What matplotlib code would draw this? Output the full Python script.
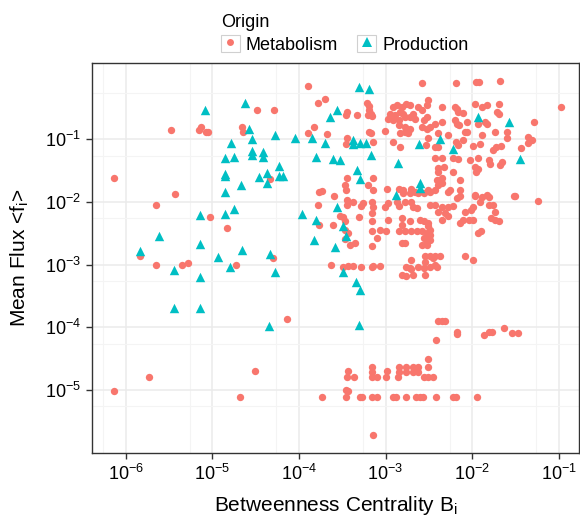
import numpy as np
import matplotlib
matplotlib.use("Agg")
import matplotlib.pyplot as plt
from matplotlib.ticker import FixedLocator, LogFormatterMathtext, NullFormatter
from matplotlib.patches import Rectangle
from matplotlib.lines import Line2D
from matplotlib.legend_handler import HandlerTuple

plt.rcParams['font.family'] = ['Liberation Sans', 'DejaVu Sans']
plt.rcParams['mathtext.fontset'] = 'custom'
plt.rcParams['mathtext.rm'] = 'Liberation Sans'
plt.rcParams['mathtext.it'] = 'Liberation Sans:italic'
plt.rcParams['mathtext.bf'] = 'Liberation Sans:bold'

# ---------------- data: (log10 B_i, log10 <f_i>) ----------------
origins = ["Metabolism", "Production"]

production_logB = [-5.84, -5.62, -5.14, -4.93, -4.66, -4.33, -5.44, -5.14, -4.80, -4.28,
                   -5.44, -5.14, -4.35, -5.08, -4.62, -4.58, -4.54, -4.78, -4.28, -4.05,
                   -3.85, -3.70, -3.56, -3.64, -4.54, -4.54, -4.41, -4.42, -4.85, -4.75,
                   -4.23, -4.37, -4.46, -4.85, -4.85, -4.37, -4.23, -4.18, -4.67, -4.85,
                   -3.80, -3.61, -3.53, -3.56, -5.14, -4.85, -4.75, -3.97, -3.80, -3.83,
                   -3.58, -3.49, -3.46, -3.49, -3.31, -3.19, -3.37, -3.38, -3.30, -3.23,
                   -2.61, -2.37, -2.22, -1.93, -1.58, -1.45, -3.17, -2.86, -3.33, -3.29,
                   -2.60, -2.60, -2.88, -3.34, -3.29, -3.31]
production_logF = [-2.78, -2.55, -2.67, -2.88, -2.77, -2.83, -3.09, -3.19, -3.03, -3.11,
                   -3.69, -3.69, -3.98, -0.53, -0.42, -0.84, -1.00, -1.06, -0.93, -0.98,
                   -0.98, -1.06, -0.54, -0.65, -1.19, -1.25, -1.20, -1.28, -1.30, -1.29,
                   -1.43, -1.54, -1.60, -1.55, -1.59, -1.69, -1.58, -1.58, -1.73, -1.84,
                   -1.29, -1.32, -1.33, -2.08, -2.21, -2.19, -2.12, -2.20, -2.29, -2.61,
                   -2.72, -2.39, -2.54, -3.11, -0.16, -0.20, -1.01, -1.08, -1.06, -1.06,
                   -1.08, -1.00, -1.15, -0.65, -0.72, -1.32, -1.25, -1.38, -1.49, -1.64,
                   -1.69, -1.77, -1.89, -3.27, -3.41, -3.97]

metab_left = [(-6.13, -1.61), (-5.48, -0.86), (-5.15, -0.86), (-5.13, -0.81), (-5.07, -0.88),
              (-5.05, -0.88), (-5.43, -1.88), (-5.65, -2.05), (-5.03, -2.24), (-4.83, -2.42),
              (-5.83, -2.87), (-4.48, -0.54), (-4.29, -0.54), (-4.66, -0.80), (-4.64, -0.88),
              (-4.33, -1.64), (-3.90, -0.15), (-3.78, -0.42), (-3.70, -0.35), (-3.83, -0.80),
              (-3.90, -0.90), (-3.68, -0.92), (-3.77, -1.84), (-3.73, -1.83), (-3.60, -1.90),
              (-3.78, -2.05), (-3.77, -2.37), (-3.61, -2.36), (-4.30, -2.90), (-5.65, -3.01),
              (-5.35, -3.01), (-5.28, -2.98), (-4.73, -3.01), (-3.63, -3.01), (-4.14, -3.86),
              (-4.51, -4.70), (-5.73, -4.80), (-6.13, -5.01), (-4.68, -5.11), (-3.73, -5.11)]

metab_upper_mid = [(-3.21, -0.42), (-3.19, -0.47), (-3.19, -0.53), (-3.17, -0.60), (-3.20, -0.61),
                   (-3.16, -0.63), (-3.44, -0.56), (-3.46, -0.62), (-3.33, -0.61), (-3.19, -0.88),
                   (-3.17, -0.90), (-3.46, -1.08), (-3.14, -1.05), (-3.01, -0.87),
                   (-2.91, -0.48), (-2.87, -0.45), (-2.81, -0.48), (-2.76, -0.43), (-2.72, -0.45),
                   (-2.83, -0.56), (-2.80, -0.59), (-2.89, -0.61), (-2.95, -0.59), (-2.97, -0.67),
                   (-2.91, -0.69), (-2.85, -0.69), (-2.78, -0.64), (-2.72, -0.64), (-2.68, -0.59),
                   (-2.62, -0.48), (-2.58, -0.53), (-2.52, -0.45), (-2.51, -0.37),
                   (-2.84, -0.77), (-2.78, -0.80), (-2.72, -0.83), (-2.74, -0.90), (-2.83, -0.90),
                   (-2.78, -0.88), (-2.66, -0.68), (-2.56, -0.69), (-2.52, -0.65), (-2.58, -0.81),
                   (-2.52, -0.84), (-2.49, -0.80), (-2.91, -1.04), (-2.83, -1.12), (-2.51, -0.98),
                   (-2.53, -1.09), (-2.39, -0.90),
                   (-3.45, -1.61), (-3.47, -1.73), (-3.46, -1.81), (-3.15, -1.61), (-3.20, -1.73),
                   (-3.15, -1.81), (-2.98, -1.80), (-2.85, -1.80), (-2.80, -1.81), (-2.70, -1.80),
                   (-2.39, -1.52), (-2.41, -1.65), (-2.51, -1.81), (-2.43, -1.81), (-3.44, -0.98),
                   (-2.58, -0.10), (-2.19, -0.10), (-1.95, -0.09), (-1.92, -0.09), (-1.68, -0.07),
                   (-0.97, -0.49)]

metab_upper_right = [(-2.35, -0.49), (-2.20, -0.48), (-2.16, -0.56), (-2.10, -0.58), (-2.18, -0.51),
                     (-1.97, -0.43), (-1.89, -0.48), (-1.83, -0.45), (-1.69, -0.43), (-1.71, -0.56),
                     (-1.69, -0.59), (-2.43, -0.75), (-2.35, -0.73), (-2.20, -0.70), (-2.18, -0.75),
                     (-2.15, -0.78), (-2.06, -0.72), (-1.93, -0.75), (-1.85, -0.72), (-1.83, -0.75),
                     (-2.08, -0.88), (-2.06, -0.88), (-2.28, -0.93), (-2.19, -1.04), (-2.16, -1.09),
                     (-2.10, -1.01), (-1.89, -0.93), (-1.74, -0.88), (-1.60, -0.88), (-1.60, -0.98),
                     (-1.99, -1.11), (-1.91, -1.08), (-1.76, -1.17), (-1.72, -1.13), (-1.67, -1.11),
                     (-1.35, -0.96), (-1.31, -1.01), (-1.35, -1.06), (-1.43, -1.14), (-1.29, -0.72),
                     (-2.43, -1.12), (-2.39, -1.12), (-2.43, -1.30), (-2.35, -1.30), (-2.22, -1.30),
                     (-2.16, -1.32), (-2.02, -1.33), (-1.93, -1.30), (-1.81, -1.33), (-1.79, -1.39),
                     (-1.66, -1.36), (-1.68, -1.41), (-2.39, -1.46), (-2.32, -1.44), (-2.22, -1.52),
                     (-1.97, -1.44), (-1.95, -1.52), (-1.93, -1.48), (-2.35, -1.62), (-2.35, -1.70),
                     (-2.39, -1.73), (-2.14, -1.65), (-2.26, -1.81), (-2.14, -1.81), (-1.97, -1.89),
                     (-1.83, -1.89)]

metab_lower_mid = [(-3.45, -1.97), (-3.37, -2.00), (-3.28, -2.06), (-3.26, -2.01), (-3.16, -2.00),
                   (-3.14, -2.08), (-3.16, -2.18), (-3.16, -2.31), (-3.01, -2.08), (-2.97, -2.02),
                   (-2.87, -2.00), (-2.85, -2.06), (-2.80, -1.86), (-2.72, -1.86), (-2.66, -1.84),
                   (-2.62, -1.86), (-2.56, -1.86), (-2.49, -1.84), (-2.78, -2.00), (-2.70, -2.00),
                   (-2.68, -2.08), (-2.64, -2.10), (-2.49, -2.05), (-3.49, -2.24), (-3.47, -2.31),
                   (-3.31, -2.24), (-2.97, -2.28), (-2.81, -2.26), (-2.72, -2.31), (-2.81, -2.37),
                   (-2.60, -2.29), (-2.56, -2.31), (-2.51, -2.34), (-2.51, -2.39), (-2.49, -2.45),
                   (-3.16, -2.47), (-3.06, -2.44), (-2.99, -2.47), (-2.85, -2.47), (-2.78, -2.47),
                   (-2.70, -2.47), (-2.64, -2.47), (-2.58, -2.47), (-2.52, -2.50), (-2.49, -2.53),
                   (-3.10, -2.58), (-2.81, -2.65), (-2.78, -2.66), (-2.56, -2.58), (-2.52, -2.63),
                   (-2.52, -2.69), (-2.49, -2.61), (-2.58, -2.69), (-3.41, -2.69), (-3.35, -2.65),
                   (-3.16, -2.70), (-2.54, -2.87), (-2.49, -2.87), (-2.45, -2.90), (-2.54, -2.95),
                   (-3.49, -3.04), (-3.43, -3.02), (-3.37, -3.02), (-3.28, -3.03), (-3.16, -3.04),
                   (-3.14, -3.02), (-3.06, -3.02), (-2.76, -3.04), (-2.70, -2.93), (-2.72, -3.06),
                   (-2.70, -3.07), (-2.62, -3.04), (-2.56, -3.06), (-2.49, -3.04), (-2.41, -3.03),
                   (-2.81, -3.16), (-2.76, -3.18), (-2.68, -3.16), (-2.54, -3.16),
                   (-3.47, -2.45), (-3.43, -2.49), (-3.47, -2.59), (-3.53, -2.23), (-3.45, -2.05)]

metab_lower_right = [(-2.28, -1.84), (-2.14, -1.90), (-2.18, -1.93), (-1.97, -1.90), (-1.89, -1.92),
                     (-1.81, -1.92), (-1.91, -2.00), (-1.81, -2.05), (-1.76, -2.05), (-1.51, -1.90),
                     (-1.52, -1.90), (-1.24, -1.98), (-2.43, -2.05), (-2.35, -2.08), (-2.28, -2.08),
                     (-2.22, -2.06), (-2.39, -2.16), (-2.35, -2.29), (-2.28, -2.23), (-2.31, -2.18),
                     (-2.08, -2.16), (-1.99, -2.08), (-2.01, -2.13), (-2.14, -2.34), (-2.10, -2.29),
                     (-2.04, -2.29), (-1.99, -2.29), (-1.78, -2.26), (-1.74, -2.29), (-1.69, -2.31),
                     (-1.74, -2.16), (-1.90, -2.47), (-1.93, -2.49), (-2.08, -2.87), (-1.99, -2.93),
                     (-2.43, -2.87), (-2.37, -2.87), (-2.43, -3.01)]

metab_low_flux = [(-2.39, -3.90), (-2.35, -3.90), (-2.31, -3.90), (-2.18, -4.07), (-2.18, -4.11),
                  (-2.42, -4.20), (-1.86, -4.12), (-1.81, -4.08), (-1.77, -4.07), (-1.63, -4.01),
                  (-1.54, -4.09), (-1.47, -4.09), (-2.51, -4.50),
                  (-3.16, -4.63), (-3.16, -4.71), (-3.43, -4.69), (-3.44, -4.80), (-3.36, -4.80),
                  (-3.16, -4.80), (-3.10, -4.80), (-2.98, -4.69), (-2.99, -4.80), (-2.86, -4.80),
                  (-2.85, -4.63), (-2.85, -4.71), (-2.76, -4.63), (-2.76, -4.71), (-2.68, -4.63),
                  (-2.68, -4.71), (-2.62, -4.63), (-2.62, -4.71), (-2.51, -4.63), (-2.56, -4.80),
                  (-2.51, -4.80), (-2.45, -4.80),
                  (-3.46, -5.00), (-3.43, -5.01), (-3.46, -5.11), (-3.29, -5.11), (-3.27, -5.11),
                  (-3.16, -5.11), (-3.10, -5.11), (-2.91, -5.11), (-2.88, -5.11), (-2.76, -5.11),
                  (-2.65, -5.11), (-2.60, -5.11), (-2.57, -5.11), (-2.42, -5.11), (-2.22, -5.11),
                  (-2.19, -5.11), (-1.94, -5.11), (-3.14, -5.71)]

x_breaks = [1e-6, 1e-5, 1e-4, 1e-3, 1e-2, 1e-1]
y_breaks = [1e-5, 1e-4, 1e-3, 1e-2, 1e-1]
x_minor = [5.5e-7, 5.5e-6, 5.5e-5, 5.5e-4, 5.5e-3, 5.5e-2]
y_minor = [5.5e-6, 5.5e-5, 5.5e-4, 5.5e-3, 5.5e-2, 5.5e-1]

metab = np.array(metab_left + metab_upper_mid + metab_upper_right +
                 metab_lower_mid + metab_lower_right + metab_low_flux)
metab_B = 10.0 ** metab[:, 0]
metab_F = 10.0 ** metab[:, 1]
prod_B = 10.0 ** np.array(production_logB)
prod_F = 10.0 ** np.array(production_logF)

RED = '#F8766D'
CYAN = '#00BFC4'

# ---------------- figure ----------------
W, H = 580, 517
fig = plt.figure(figsize=(W / 100, H / 100), dpi=100)
ax = fig.add_axes([92 / W, 1 - 452.7 / H, 487 / W, 389.4 / H])
ax.set_xscale('log')
ax.set_yscale('log')
ax.set_xlim(10 ** -6.389, 10 ** -0.766)
ax.set_ylim(10 ** -6.0, 10 ** 0.212)

ax.xaxis.set_major_locator(FixedLocator(x_breaks))
ax.yaxis.set_major_locator(FixedLocator(y_breaks))
ax.xaxis.set_minor_locator(FixedLocator(x_minor))
ax.yaxis.set_minor_locator(FixedLocator(y_minor))
ax.xaxis.set_major_formatter(LogFormatterMathtext())
ax.yaxis.set_major_formatter(LogFormatterMathtext())
ax.xaxis.set_minor_formatter(NullFormatter())
ax.yaxis.set_minor_formatter(NullFormatter())

ax.grid(which='major', color='#EBEBEB', linewidth=1.1, zorder=0)
ax.grid(which='minor', color='#F4F4F4', linewidth=0.8, zorder=0)
ax.set_axisbelow(True)

ax.tick_params(which='major', direction='out', length=4, width=1, color='#333333',
               labelsize=13, labelcolor='black', pad=4)
ax.tick_params(which='minor', length=0)
for sp in ax.spines.values():
    sp.set_color('#333333')
    sp.set_linewidth(1.0)

ax.scatter(metab_B, metab_F, s=28, c=RED, marker='o', linewidths=0, zorder=3)
ax.scatter(prod_B, prod_F, s=46, c=CYAN, marker='^', linewidths=0, zorder=3)

ax.set_xlabel('Betweenness Centrality B$_\\mathrm{i}$', fontsize=15, labelpad=7)
ax.set_ylabel('Mean Flux <f$_\\mathrm{i}$>', fontsize=15, labelpad=10)

# legend
h_m = (Rectangle((0, 0), 1, 1, facecolor='white', edgecolor='#D0D0D0', linewidth=0.8),
       Line2D([], [], marker='o', linestyle='', color=RED, markersize=5, markeredgewidth=0))
h_p = (Rectangle((0, 0), 1, 1, facecolor='white', edgecolor='#D0D0D0', linewidth=0.8),
       Line2D([], [], marker='^', linestyle='', color=CYAN, markersize=6.5, markeredgewidth=0))
leg = fig.legend(handles=[h_m, h_p], labels=origins, ncol=2, title='Origin',
                 loc='upper left', bbox_to_anchor=(208 / W, 1 - 1 / H),
                 frameon=False, fontsize=13, title_fontsize=13, alignment='left',
                 handler_map={tuple: HandlerTuple(ndivide=1)},
                 handlelength=1.05, handleheight=1.05, handletextpad=0.35,
                 columnspacing=1.05, borderpad=0.2, labelspacing=0.25)

fig.savefig('out.png', dpi=100)
